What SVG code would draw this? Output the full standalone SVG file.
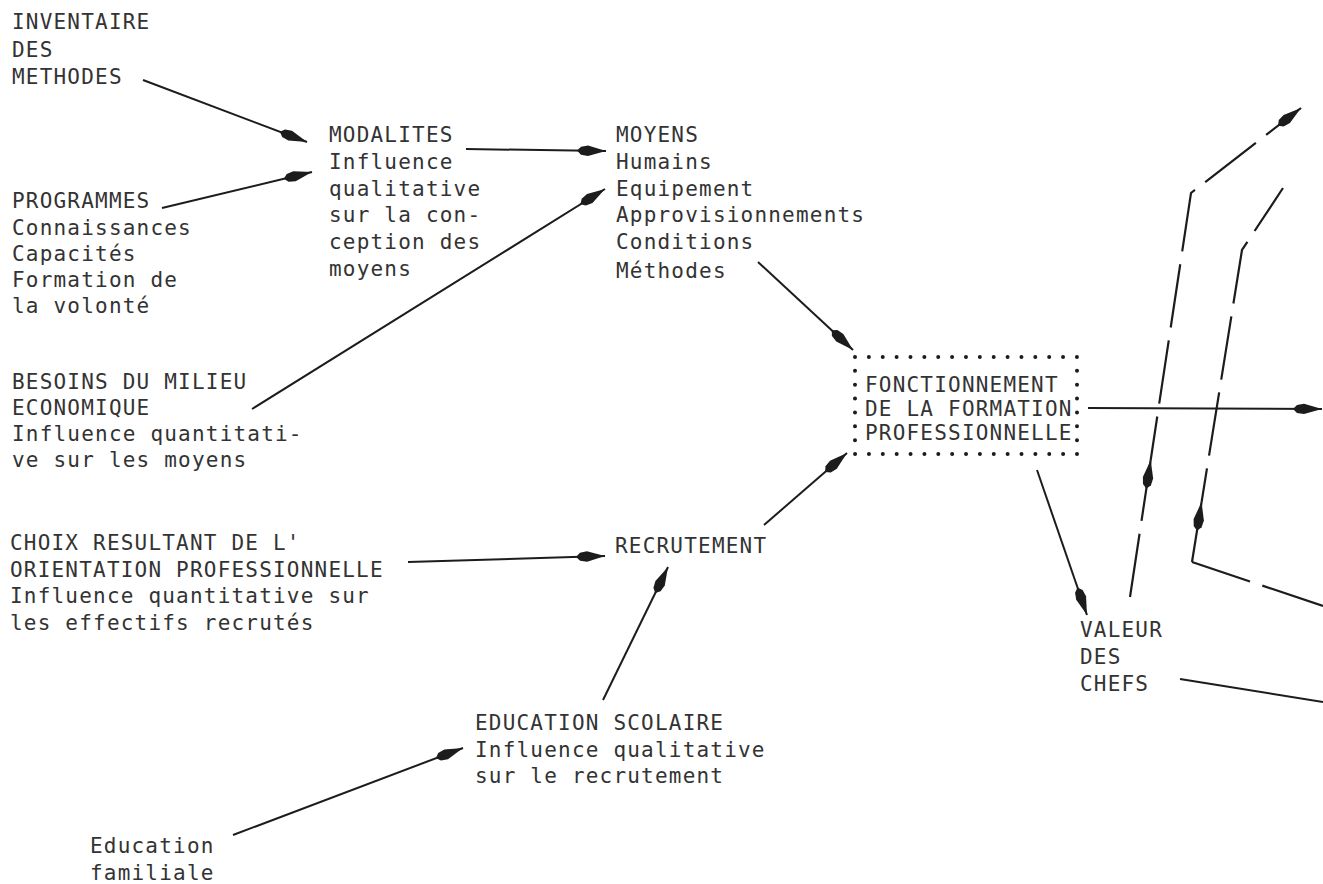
<svg xmlns="http://www.w3.org/2000/svg" width="1323" height="884" viewBox="0 0 1323 884">
<style>
text{font-family:"DejaVu Sans Mono","Liberation Mono",monospace;font-size:21px;letter-spacing:1.2px;fill:#333333}
.ln{fill:none;stroke:#1c1c1c;stroke-width:2}
.ds{fill:none;stroke:#1c1c1c;stroke-width:2.2;stroke-dasharray:64 13}
.ar{marker-end:url(#ah)}
</style>
<defs>
<marker id="ah" markerUnits="userSpaceOnUse" markerWidth="40" markerHeight="20" refX="0" refY="0" viewBox="-30 -10 32 20" orient="auto" overflow="visible">
<path d="M0,0 L-18,-5.2 L-25,-4 L-29,0 L-25,4 L-18,5.2 Z" fill="#1c1c1c"/>
</marker>
</defs>
<rect width="1323" height="884" fill="#ffffff"/>
<g id="connectors">
<path class="ln ar" d="M143,80 L307,142"/>
<path class="ln ar" d="M162,208 L312,172"/>
<path class="ln ar" d="M466,149 L606,151"/>
<path class="ln ar" d="M252,409 L605,189"/>
<path class="ln ar" d="M758,262 L853,350"/>
<path class="ln ar" d="M408,562 L605,556"/>
<path class="ln ar" d="M764,525 L847,453"/>
<path class="ln ar" d="M603,700 L668,567"/>
<path class="ln ar" d="M233,835 L463,748"/>
<path class="ln ar" d="M1037,470 L1087,615"/>
<path class="ln ar" d="M1088,408 L1322,409"/>
<path class="ln" d="M1180,679 L1323,702"/>
<path class="ds ar" d="M1130,597 L1150.7,460"/>
<path class="ds ar" d="M1150.7,460 L1191,193 L1301,108" style="stroke-dashoffset:20"/>
<path class="ds" d="M1323,606 L1192,562"/>
<path class="ds ar" d="M1192,562 L1201.6,502"/>
<path class="ds" d="M1201.6,502 L1242,250 L1283,188" style="stroke-dashoffset:30"/>
</g>
<g id="inventaire">
<text x="12" y="29">INVENTAIRE</text>
<text x="12" y="57">DES</text>
<text x="12" y="84">METHODES</text>
</g>
<g id="programmes">
<text x="12" y="208">PROGRAMMES</text>
<text x="12" y="234.5">Connaissances</text>
<text x="12" y="261">Capacités</text>
<text x="12" y="287">Formation de</text>
<text x="12" y="313">la volonté</text>
</g>
<g id="modalites">
<text x="329" y="142">MODALITES</text>
<text x="329" y="169">Influence</text>
<text x="329" y="196">qualitative</text>
<text x="329" y="222">sur la con-</text>
<text x="329" y="249">ception des</text>
<text x="329" y="276">moyens</text>
</g>
<g id="moyens">
<text x="616" y="142">MOYENS</text>
<text x="616" y="169">Humains</text>
<text x="616" y="196">Equipement</text>
<text x="616" y="222">Approvisionnements</text>
<text x="616" y="249">Conditions</text>
<text x="616" y="278">Méthodes</text>
</g>
<g id="besoins">
<text x="12" y="389">BESOINS DU MILIEU</text>
<text x="12" y="415">ECONOMIQUE</text>
<text x="12" y="441">Influence quantitati-</text>
<text x="12" y="467">ve sur les moyens</text>
</g>
<g id="choix">
<text x="10" y="550">CHOIX RESULTANT DE L'</text>
<text x="10" y="577">ORIENTATION PROFESSIONNELLE</text>
<text x="10" y="603">Influence quantitative sur</text>
<text x="10" y="630">les effectifs recrutés</text>
</g>
<g id="recrutement">
<text x="615" y="553">RECRUTEMENT</text>
</g>
<g id="education-scolaire">
<text x="475" y="730">EDUCATION SCOLAIRE</text>
<text x="475" y="757">Influence qualitative</text>
<text x="475" y="783">sur le recrutement</text>
</g>
<g id="education-familiale">
<text x="90" y="853">Education</text>
<text x="90" y="880">familiale</text>
</g>
<g id="fonctionnement">
<rect x="855" y="357" width="222" height="97" fill="none" stroke="#1c1c1c" stroke-width="4" stroke-linecap="round" stroke-dasharray="0 13.87"/>
<text x="865" y="392">FONCTIONNEMENT</text>
<text x="865" y="416">DE LA FORMATION</text>
<text x="865" y="440">PROFESSIONNELLE</text>
</g>
<g id="valeur">
<text x="1080" y="637">VALEUR</text>
<text x="1080" y="664">DES</text>
<text x="1080" y="691">CHEFS</text>
</g>
</svg>
